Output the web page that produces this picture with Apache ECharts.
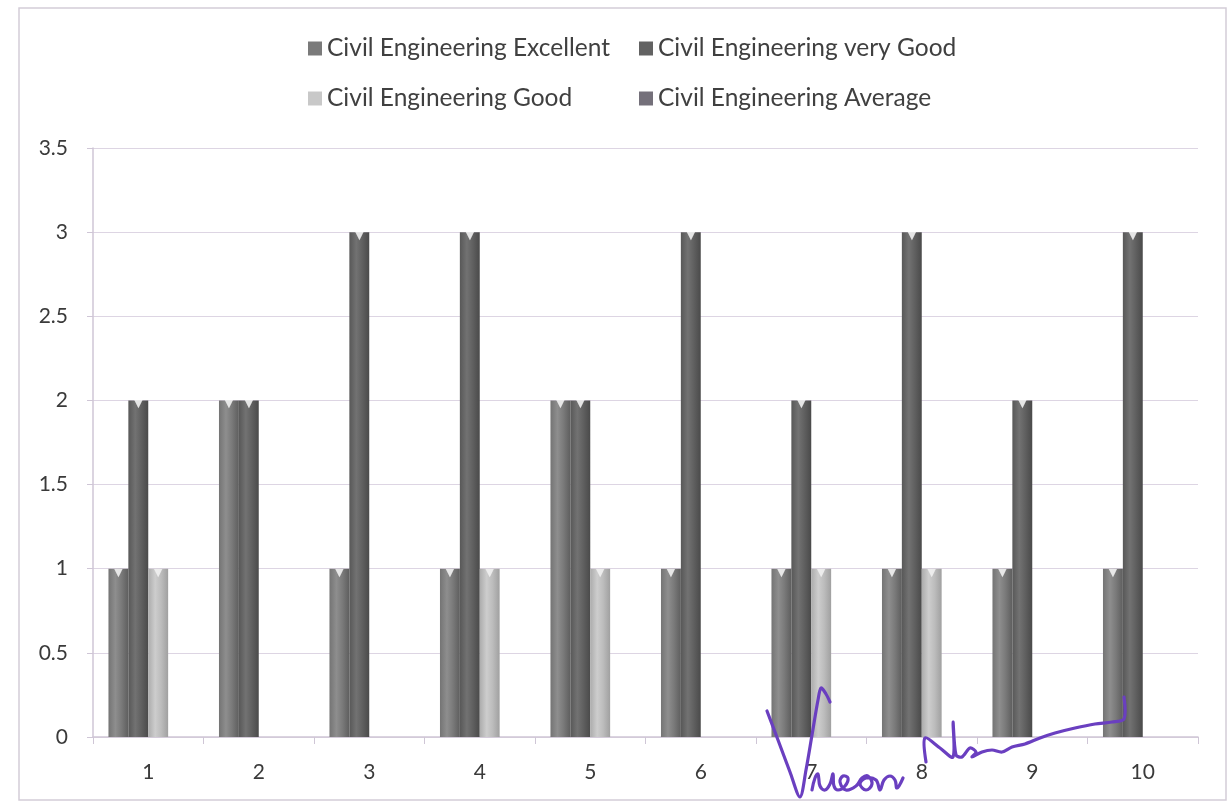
<!DOCTYPE html>
<html>
<head>
<meta charset="utf-8">
<script src="https://cdn.jsdelivr.net/npm/echarts@6/dist/echarts.min.js"></script>
<style>
html,body{margin:0;padding:0;background:#fff;}
#c{width:1230px;height:802px;}
</style>
</head>
<body>
<div id="c"></div>
<script>
const categories = ['1','2','3','4','5','6','7','8','9','10'];
const seriesNames = ['Civil Engineering Excellent','Civil Engineering very Good','Civil Engineering Good','Civil Engineering Average'];
const excellent = [1,2,1,1,2,1,1,1,1,1];
const veryGood = [2,2,3,3,2,3,2,3,2,3];
const good = [1,0,0,1,1,0,1,1,0,0];
const average = [0,0,0,0,0,0,0,0,0,0];
const yTicks = {min:0, max:3.5, interval:0.5};

const FONT = 'Lato';
function grad(c0,c1,c2,c3){
  return new echarts.graphic.LinearGradient(0,0,1,0,[
    {offset:0,color:c0},{offset:0.35,color:c1},{offset:0.65,color:c2},{offset:1,color:c3}]);
}
const fills = [
  grad('#747474','#8e8e8e','#7a7a7a','#5e5e5e'),
  grad('#585858','#727272','#606060','#4a4a4a'),
  grad('#acacac','#cdcdcd','#bcbcbc','#a0a0a0'),
  grad('#6c6874','#88838e','#726e78','#5a565e')
];
const legendColors = ['#7a7a7a','#626262','#c8c8c8','#74707a'];
const datas = [excellent, veryGood, good, average];

const series = datas.map((d,i)=>({
  name: seriesNames[i],
  type:'bar',
  data: d,
  barGap:'0%',
  barCategoryGap:'28%',
  itemStyle:{color:fills[i]},
  label:{show:true, position:'insideTop', distance:0, formatter:p=> p.value>0 ? '▼' : '',
         color:'rgba(240,240,240,0.92)', fontSize:14, offset:[0,-3]},
  emphasis:{disabled:true}
}));

const legendBase = {
  orient:'vertical', itemWidth:14, itemHeight:14, itemGap:25,
  icon:'rect',
  textStyle:{fontFamily:FONT, fontSize:24.5, color:'#404040', lineHeight:20},
  selectedMode:false
};

const chart = echarts.init(document.getElementById('c'), null, {renderer:'canvas'});
const ink = {stroke:'#6a3fc0', lineWidth:3.2, fill:'none', lineJoin:'round', lineCap:'round'};
chart.setOption({
  backgroundColor:'#ffffff',
  animation:false,
  legend:[
    Object.assign({}, legendBase, {left:303, top:31,
      data:[{name:seriesNames[0], itemStyle:{color:legendColors[0]}},{name:seriesNames[2], itemStyle:{color:legendColors[2]}}]}),
    Object.assign({}, legendBase, {left:634, top:31,
      data:[{name:seriesNames[1], itemStyle:{color:legendColors[1]}},{name:seriesNames[3], itemStyle:{color:legendColors[3]}}]})
  ],
  grid:{left:93, right:32, top:148, bottom:65, containLabel:false},
  xAxis:{
    type:'category', data:categories,
    axisLine:{show:true, lineStyle:{color:'#cfc6d6', width:1.5}},
    axisTick:{show:true, length:7, lineStyle:{color:'#cfc6d6'}},
    axisLabel:{fontFamily:FONT, fontSize:21, color:'#3a3a3a', margin:25}
  },
  yAxis:{
    type:'value', min:yTicks.min, max:yTicks.max, interval:yTicks.interval,
    axisLine:{show:true, lineStyle:{color:'#cfc6d6', width:1.5}},
    axisTick:{show:true, length:6, lineStyle:{color:'#cfc6d6'}},
    splitLine:{show:true, lineStyle:{color:'#ddd5e3', width:1.2}},
    axisLabel:{fontFamily:FONT, fontSize:21, color:'#3a3a3a', margin:25}
  },
  series: series,
  graphic:[
    {type:'rect', shape:{x:19, y:8, width:1207, height:792},
     style:{fill:'none', stroke:'#d4cdd8', lineWidth:1.5}, silent:true, z:-1},
    {type:'polyline', silent:true, z:100,
     shape:{smooth:0.3, points:[[767,711],[778,740],[790,772],[800,797],[806,770],[812,735],[818,700],[821,688],[826,694],[830,702]]},
     style:ink},
    {type:'polyline', silent:true, z:100,
     shape:{smooth:0.4, points:[[812,790],[815,778],[818,774],[820,786],[825,790],[830,784],[833,774],[834,786],[838,790],[845,786],[848,778],[843,776],[840,782],[846,790],[856,786],[862,778],[868,776],[872,784],[866,790],[860,784],[866,778],[876,780],[880,790],[884,780],[890,776],[895,780],[897,788],[903,778]]},
     style:ink},
    {type:'polyline', silent:true, z:100,
     shape:{smooth:0.3, points:[[926,762],[925,738],[940,748],[953,757],[953,722],[956,755],[962,757],[970,748],[976,752],[972,757],[982,752],[992,750],[1002,752],[1012,747],[1025,744],[1040,738],[1055,733],[1075,728],[1095,724],[1112,722],[1124,719],[1124,697]]},
     style:ink}
  ]
});
</script>
</body>
</html>
